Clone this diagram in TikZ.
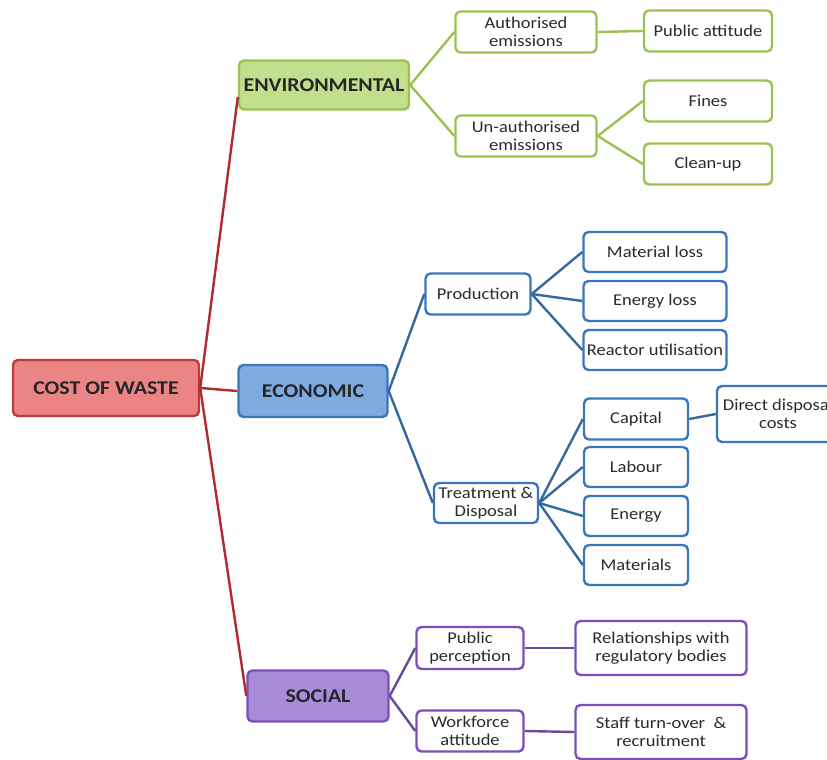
\documentclass[tikz,border=0pt]{standalone}
\usepackage{fontspec}
\setmainfont{Carlito}[FakeStretch=1.12]
\definecolor{txt}{HTML}{2B2B2B}
\definecolor{redb}{HTML}{C0393B}
\definecolor{redf}{HTML}{EB8585}
\definecolor{redl}{HTML}{B02A2E}
\definecolor{grnb}{HTML}{9BC251}
\definecolor{grnf}{HTML}{C3DE8C}
\definecolor{blub}{HTML}{3B75BE}
\definecolor{bluf}{HTML}{7EAAE2}
\definecolor{blul}{HTML}{36689E}
\definecolor{purb}{HTML}{7B4FBB}
\definecolor{purf}{HTML}{A98BDA}
\definecolor{purl}{HTML}{6B4A9B}
\tikzset{
  box/.style={draw, rounded corners=5pt, line width=2.4pt, fill=white, text=txt,
    align=center, inner sep=0pt, font=\fontsize{16.5}{17.5}\selectfont},
  mainbox/.style={box, font=\fontsize{19.5}{21}\selectfont\bfseries, text=black!85},
  gbox/.style={box, draw=grnb},
  bbox/.style={box, draw=blub},
  pbox/.style={box, draw=purb},
  gl/.style={draw=grnb, line width=2.4pt},
  bl/.style={draw=blul, line width=2.4pt},
  pl/.style={draw=purl, line width=2.4pt},
  rl/.style={draw=redl, line width=2.4pt},
}
\begin{document}
\begin{tikzpicture}[x=1pt,y=-1pt]
\useasboundingbox (0,0) rectangle (827,760);
% main nodes
\node[mainbox, draw=redb, fill=redf, minimum width=186, minimum height=56] (cost) at (106,388) {COST OF WASTE};
\node[mainbox, draw=grnb, fill=grnf, minimum width=170, minimum height=49] (env) at (324,85) {ENVIRONMENTAL};
\node[mainbox, draw=blub, fill=bluf, minimum width=149, minimum height=52] (eco) at (313,391) {ECONOMIC};
\node[mainbox, draw=purb, fill=purf, minimum width=141, minimum height=51] (soc) at (318,696) {SOCIAL};
% environmental
\node[gbox, minimum width=141, minimum height=41] (auth) at (526,32) {Authorised\\emissions};
\node[gbox, minimum width=141, minimum height=41] (unauth) at (526,136) {Un-authorised\\emissions};
\node[gbox, minimum width=128, minimum height=41] (pubatt) at (708,31) {Public attitude};
\node[gbox, minimum width=128, minimum height=41] (fines) at (708,101) {Fines};
\node[gbox, minimum width=128, minimum height=41] (clean) at (708,164) {Clean-up};
% economic
\node[bbox, minimum width=105, minimum height=41] (prod) at (478,294) {Production};
\node[bbox, minimum width=143, minimum height=40] (matloss) at (655,252) {Material loss};
\node[bbox, minimum width=143, minimum height=40] (enloss) at (655,301) {Energy loss};
\node[bbox, minimum width=143, minimum height=40] (reactor) at (655,350) {Reactor utilisation};
\node[bbox, minimum width=104, minimum height=40] (treat) at (486,503) {Treatment \&\\Disposal};
\node[bbox, minimum width=104, minimum height=41] (capital) at (636,419) {Capital};
\node[bbox, minimum width=104, minimum height=40] (labour) at (636,467) {Labour};
\node[bbox, minimum width=104, minimum height=40] (energy) at (636,516) {Energy};
\node[bbox, minimum width=104, minimum height=40] (materials) at (636,565) {Materials};
\node[bbox, minimum width=122, minimum height=56] (direct) at (778,414) {Direct disposal\\costs};
% social
\node[pbox, minimum width=107, minimum height=42] (pubper) at (470,648) {Public\\perception};
\node[pbox, minimum width=107, minimum height=41] (work) at (470,731) {Workforce\\attitude};
\node[pbox, minimum width=171, minimum height=54] (relat) at (661,648) {Relationships with\\regulatory bodies};
\node[pbox, minimum width=171, minimum height=54] (staff) at (661,732) {Staff turn-over~~\&\\recruitment};
% connectors
\draw[rl] (cost.east) -- ([yshift=-12pt]env.west);
\draw[rl] (cost.east) -- (eco.west);
\draw[rl] (cost.east) -- (soc.west);
\draw[gl] (env.east) -- (auth.west);
\draw[gl] (env.east) -- (unauth.west);
\draw[gl] (auth.east) -- (pubatt.west);
\draw[gl] (unauth.east) -- (fines.west);
\draw[gl] (unauth.east) -- (clean.west);
\draw[bl] (eco.east) -- (prod.west);
\draw[bl] (eco.east) -- (treat.west);
\draw[bl] (prod.east) -- (matloss.west);
\draw[bl] (prod.east) -- (enloss.west);
\draw[bl] (prod.east) -- (reactor.west);
\draw[bl] (treat.east) -- (capital.west);
\draw[bl] (treat.east) -- (labour.west);
\draw[bl] (treat.east) -- (energy.west);
\draw[bl] (treat.east) -- (materials.west);
\draw[bl] (capital.east) -- (direct.west);
\draw[pl] (soc.east) -- (pubper.west);
\draw[pl] (soc.east) -- (work.west);
\draw[pl] (pubper.east) -- (relat.west);
\draw[pl] (work.east) -- (staff.west);
\end{tikzpicture}
\end{document}
